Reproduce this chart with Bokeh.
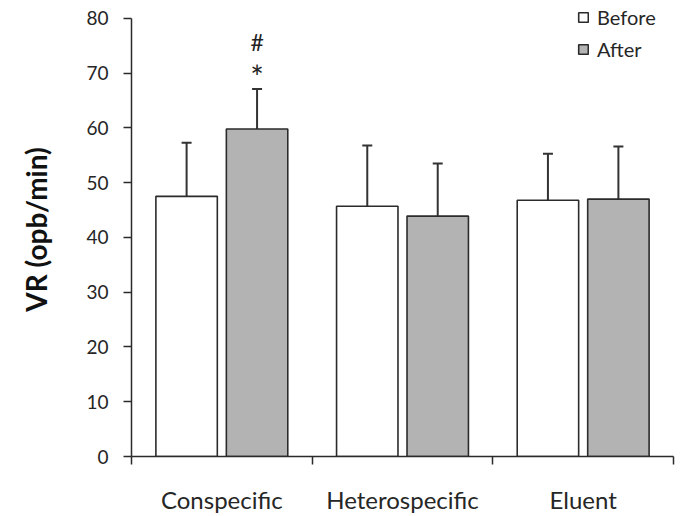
from bokeh.plotting import figure
from bokeh.models import FixedTicker, Whisker, ColumnDataSource, Legend, LegendItem, TeeHead
from bokeh.embed import file_html
from bokeh.resources import INLINE
from bokeh.core.properties import value

categories = ["Conspecific", "Heterospecific", "Eluent"]
before = [47.5, 45.7, 46.8]
after = [59.8, 43.9, 47.0]
before_err = [9.8, 11.1, 8.5]
after_err = [7.3, 9.6, 9.6]
y_ticks = [0, 10, 20, 30, 40, 50, 60, 70, 80]
sig_star = "*"
sig_hash = "#"

FONT = "Lato"
TXT = "#262626"
LINE = "#2b2b2b"

centers = [i + 0.5 for i in range(len(categories))]
off = 0.195
bw = 0.34
bx = [c - off for c in centers]
ax = [c + off for c in centers]

p = figure(width=683, height=516, output_backend="svg", toolbar_location=None,
           x_range=(0, 3), y_range=(0, 82.9),
           min_border_left=131, min_border_right=10, min_border_top=2, min_border_bottom=57)
p.outline_line_color = None
p.xgrid.visible = False
p.ygrid.visible = False

src_b = ColumnDataSource(dict(x=bx, top=before, upper=[v + e for v, e in zip(before, before_err)]))
src_a = ColumnDataSource(dict(x=ax, top=after, upper=[v + e for v, e in zip(after, after_err)]))

rb = p.vbar(x="x", top="top", bottom=0, width=bw, source=src_b,
            fill_color="white", line_color=LINE, line_width=1.6)
ra = p.vbar(x="x", top="top", bottom=0, width=bw, source=src_a,
            fill_color="#b3b3b3", line_color=LINE, line_width=1.6)

for src in (src_b, src_a):
    w = Whisker(base="x", upper="upper", lower="top", source=src, dimension="height",
                line_color="#333333", line_width=2,
                upper_head=TeeHead(size=10, line_color="#333333", line_width=2),
                lower_head=None)
    p.add_layout(w)

# significance markers above Conspecific "After"
top0 = after[0] + after_err[0]
p.text(x=[ax[0]], y=[top0 + 2.3], text=[sig_star],
       text_align="center", text_baseline="middle", text_font=value(FONT),
       text_font_size="32px", text_color="#222222")
p.text(x=[ax[0]], y=[top0 + 8.5], text=[sig_hash],
       text_align="center", text_baseline="middle", text_font=value(FONT),
       text_font_size="23px", text_color="#222222")

# x axis: labels at centers, boundary ticks as minor ticks
p.xaxis.ticker = FixedTicker(ticks=centers, minor_ticks=[0, 1, 2, 3])
p.xaxis.major_label_overrides = {c: n for c, n in zip(centers, categories)}
p.xaxis.major_tick_out = 0
p.xaxis.major_tick_in = 0
p.xaxis.minor_tick_out = 8
p.xaxis.minor_tick_in = 0
p.xaxis.minor_tick_line_color = LINE
p.xaxis.minor_tick_line_width = 1.5
p.xaxis.axis_line_color = LINE
p.xaxis.axis_line_width = 1.5
p.xaxis.major_label_standoff = 20
p.xaxis.major_label_text_font = FONT
p.xaxis.major_label_text_font_size = "24px"
p.xaxis.major_label_text_color = TXT

p.yaxis.ticker = FixedTicker(ticks=y_ticks)
p.yaxis.bounds = (0, 80)
p.yaxis.minor_tick_line_color = None
p.yaxis.major_tick_out = 8
p.yaxis.major_tick_in = 0
p.yaxis.major_tick_line_color = LINE
p.yaxis.major_tick_line_width = 1.5
p.yaxis.axis_line_color = LINE
p.yaxis.axis_line_width = 1.5
p.yaxis.major_label_standoff = 15
p.yaxis.major_label_text_font = FONT
p.yaxis.major_label_text_font_size = "19px"
p.yaxis.major_label_text_color = TXT
p.yaxis.axis_label = "VR (opb/min)"
p.yaxis.axis_label_text_font = FONT
p.yaxis.axis_label_text_font_style = "bold"
p.yaxis.axis_label_text_font_size = "28px"
p.yaxis.axis_label_text_color = "#111111"
p.yaxis.axis_label_standoff = 30

legend = Legend(items=[LegendItem(label="Before", renderers=[rb]),
                       LegendItem(label="After", renderers=[ra])],
                location=(446, 395), orientation="vertical",
                glyph_width=12, glyph_height=12, label_standoff=8, spacing=8,
                padding=0, margin=0, background_fill_alpha=0, border_line_alpha=0,
                label_text_font=FONT, label_text_font_size="20px", label_text_color=TXT,
                label_height=20)
p.add_layout(legend)

open("out.html", "w").write(file_html(p, INLINE))
